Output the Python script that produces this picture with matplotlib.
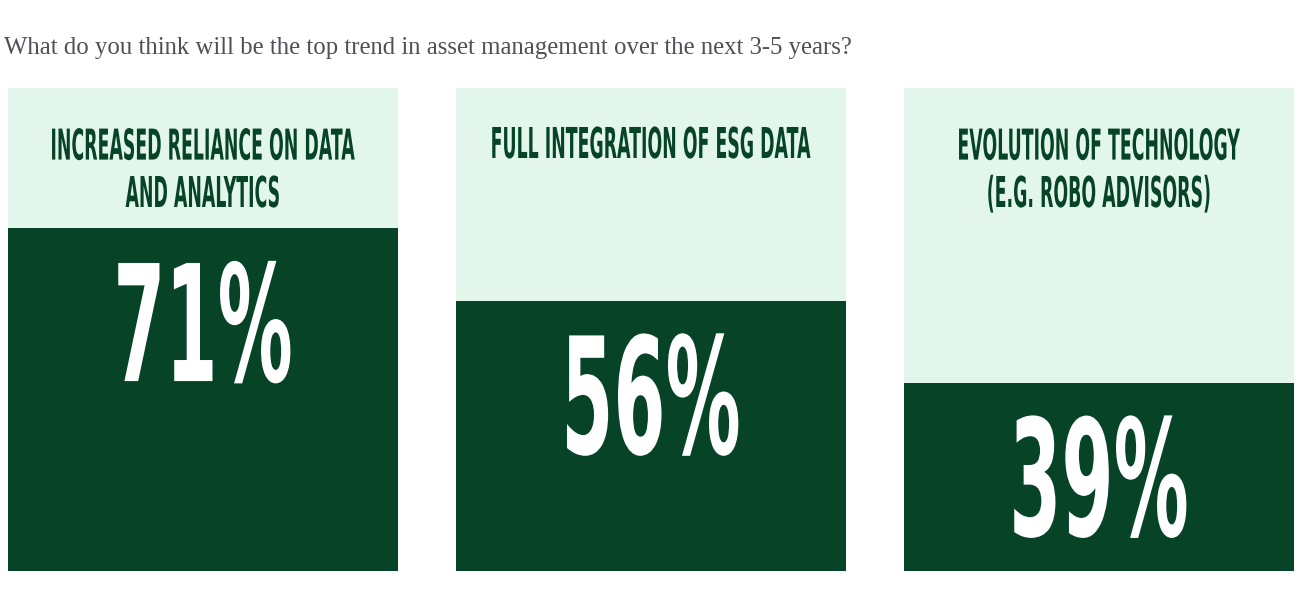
import matplotlib
matplotlib.use('Agg')
import matplotlib.pyplot as plt
from matplotlib import patheffects
from matplotlib.transforms import Affine2D

question = "What do you think will be the top trend in asset management over the next 3-5 years?"
trends = ["INCREASED RELIANCE ON DATA\nAND ANALYTICS",
          "FULL INTEGRATION OF ESG DATA",
          "EVOLUTION OF TECHNOLOGY\n(E.G. ROBO ADVISORS)"]
shares = [71, 56, 39]

DARK = '#074427'
LIGHT = '#e3f6ec'
GREY = '#4f4f57'


class Tall(patheffects.AbstractPathEffect):
    # stretch glyphs upward from the baseline -> tall condensed headline look
    def __init__(self, sy):
        super().__init__()
        self.sy = sy

    def draw_path(self, renderer, gc, tpath, affine, rgbFace=None):
        renderer.draw_path(gc, tpath, Affine2D().scale(1, self.sy) + affine, rgbFace)


W, H = 1308, 597
fig = plt.figure(figsize=(W / 100, H / 100), dpi=100)
ax = fig.add_axes([8 / W, 26 / H, 1286 / W, 483 / H])

x = list(range(len(shares)))
bw = 390 / 448
ax.bar(x, [100] * len(shares), width=bw, color=LIGHT)
ax.bar(x, shares, width=bw, color=DARK)
ax.set_xlim(-bw / 2, len(shares) - 1 + bw / 2)
ax.set_ylim(0, 100)
ax.axis('off')

for xi, lbl, v in zip(x, trends, shares):
    nlines = lbl.count('\n') + 1
    # va='baseline' pins the last line, so shift by the number of lines
    ax.annotate(lbl, xy=(xi, 100), xytext=(0, -70 - 49 * (nlines - 1)),
                textcoords='offset pixels', ha='center', va='baseline',
                fontsize=12.5, fontweight='bold', family='DejaVu Sans',
                color=DARK, linespacing=3.1, path_effects=[Tall(2.45)])
    ax.annotate(f"{v}%", xy=(xi, v), xytext=(0, -153), textcoords='offset pixels',
                ha='center', va='baseline', fontsize=54, fontweight='bold',
                family='DejaVu Sans', color='white', path_effects=[Tall(2.16)])

fig.text(4 / W, 1 - 54 / H, question, ha='left', va='baseline',
         fontsize=17.8, family='Liberation Serif', color=GREY)

fig.savefig('out.png', dpi=100, facecolor='white')
